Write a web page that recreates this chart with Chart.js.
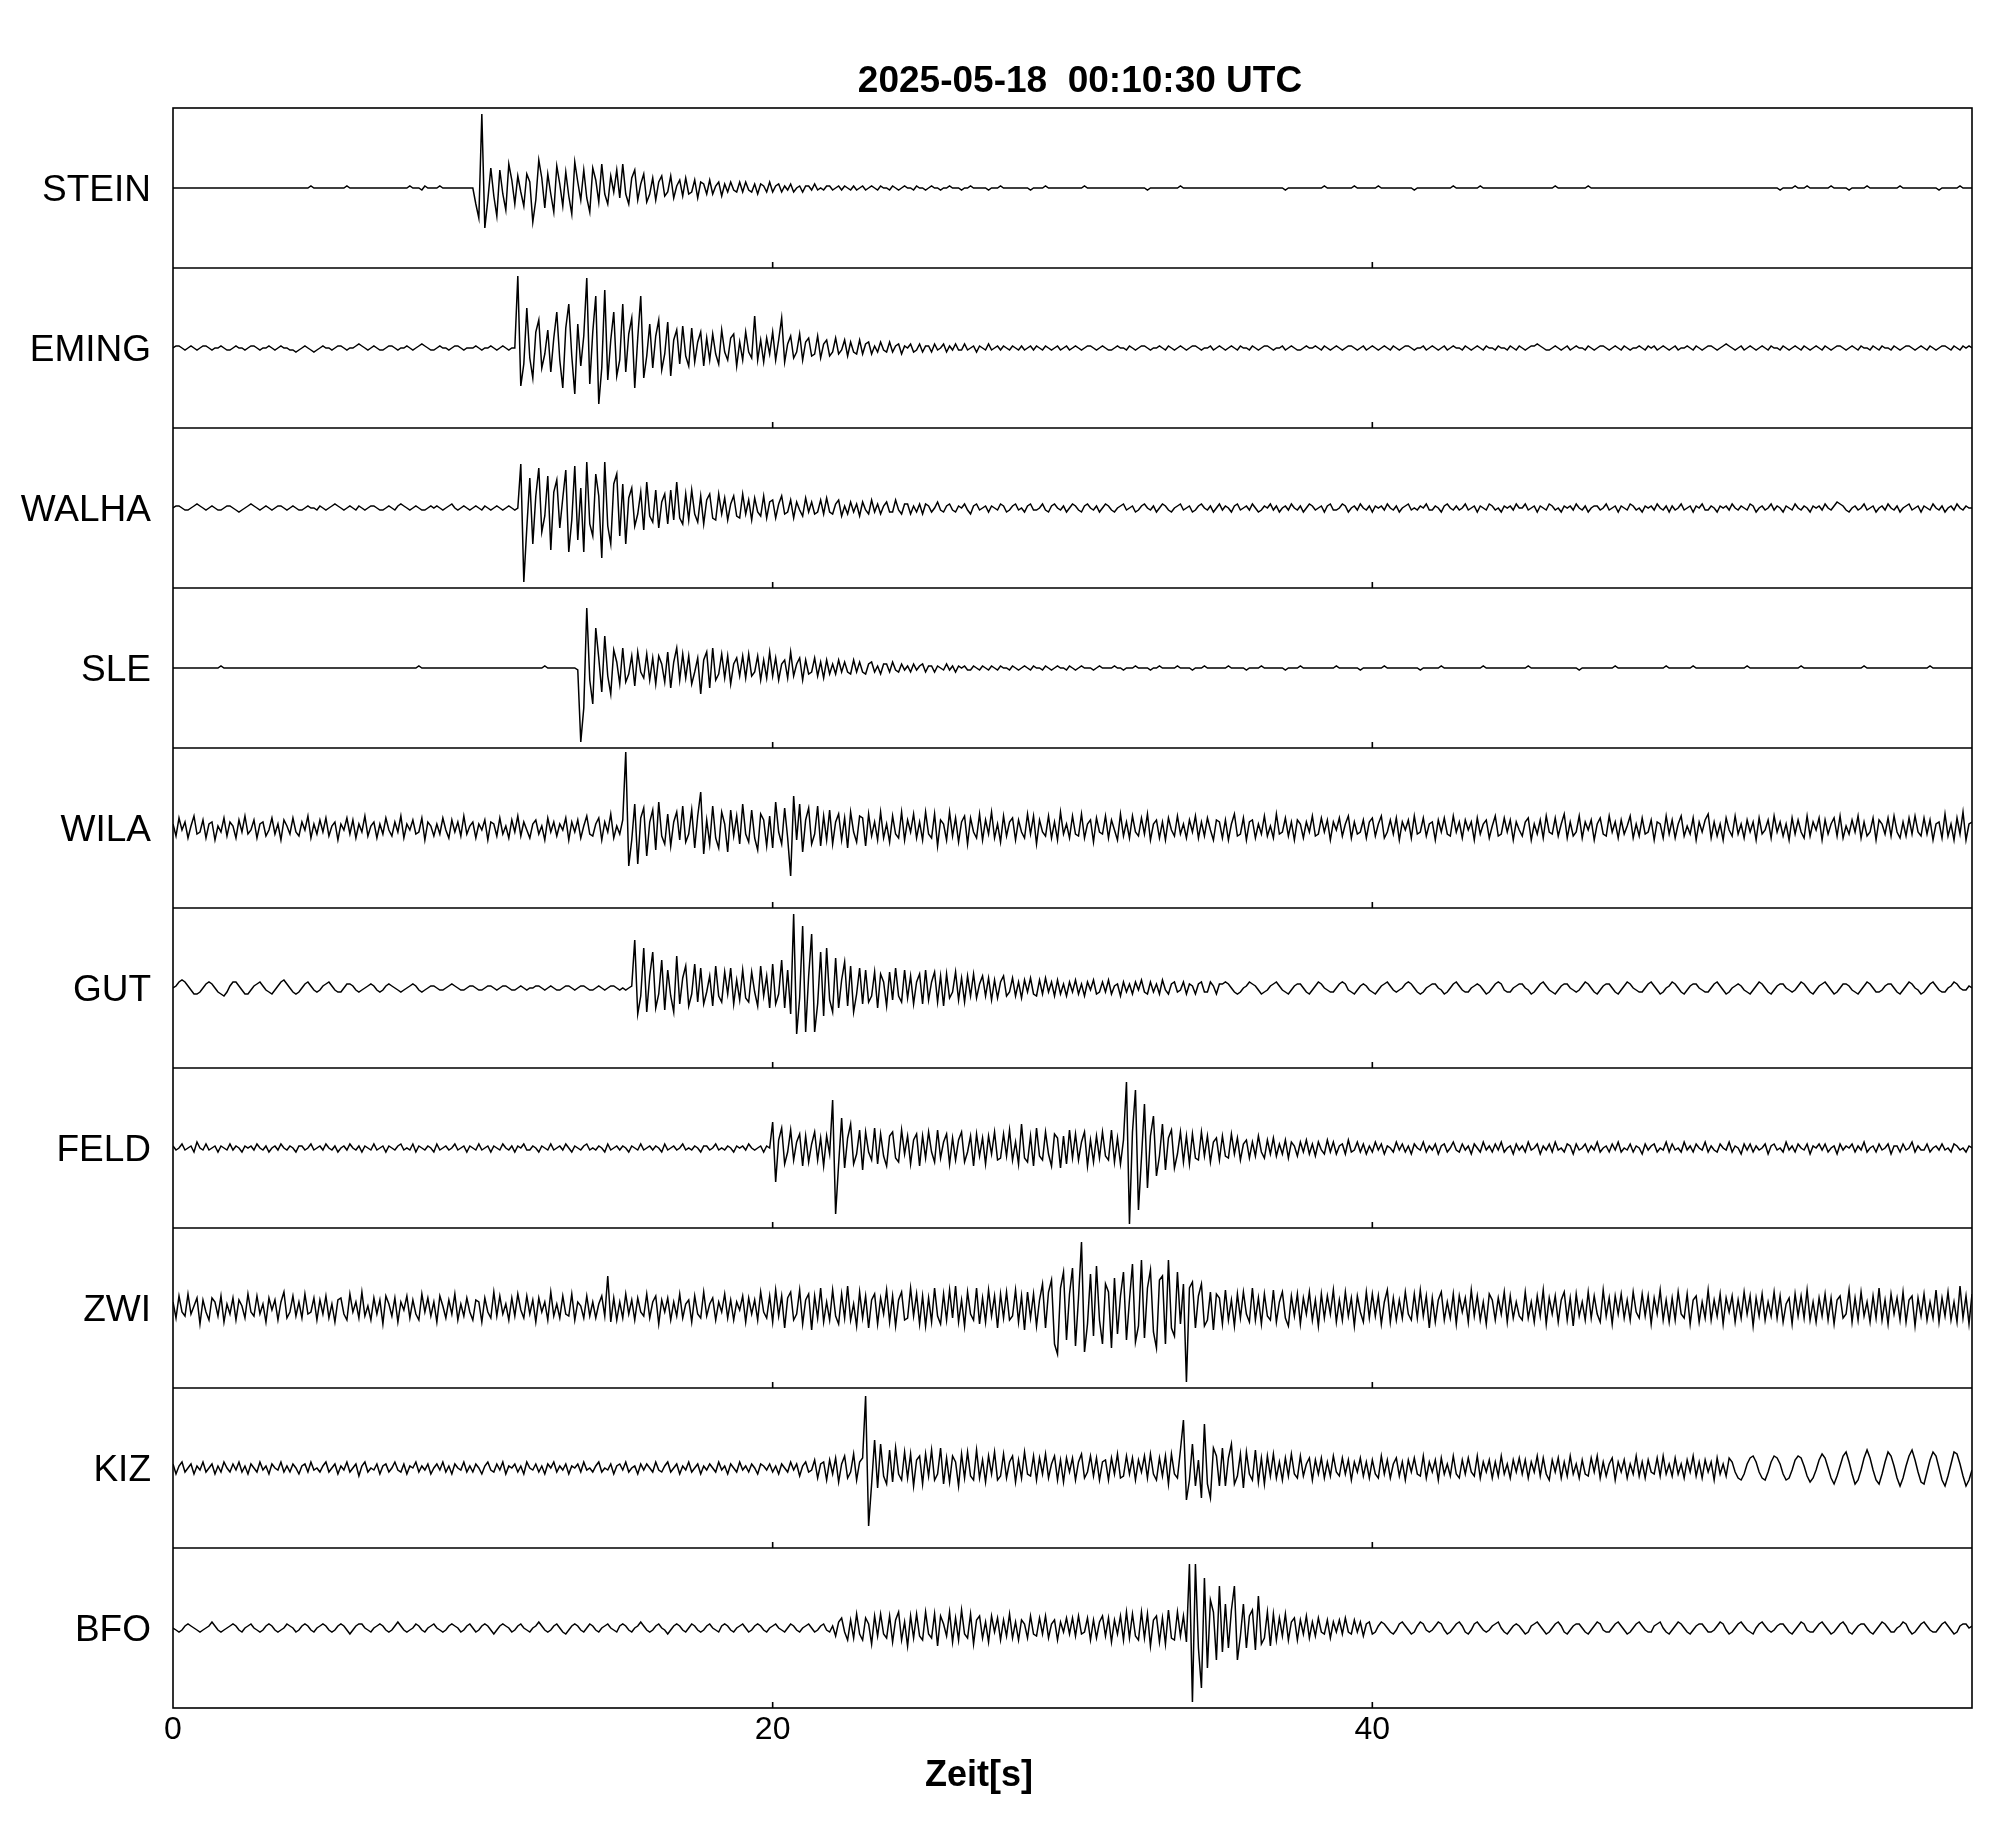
<!DOCTYPE html>
<html>
<head>
<meta charset="utf-8">
<title>Seismogramm</title>
<script src="https://cdn.jsdelivr.net/npm/chart.js@4.4.1/dist/chart.umd.min.js"></script>
<style>
  html, body { margin: 0; padding: 0; background: #fff; }
  #wrap { position: relative; width: 2005px; height: 1841px; }
  .lbl {
    position: absolute;
    font-family: "Liberation Sans", Arial, Helvetica, sans-serif;
    font-weight: bold;
    font-size: 36px;
    line-height: 36px;
    color: #000;
    white-space: pre;
    transform: translateX(-50%);
  }
</style>
</head>
<body>
<div id="wrap">
  <canvas id="seismo" width="2005" height="1841"></canvas>
  <div class="lbl" style="left:1080px; top:62px; font-size:37px;">2025-05-18  00:10:30 UTC</div>
  <div class="lbl" style="left:979px; top:1756px;">Zeit[s]</div>
</div>
<script>
// Stationen (von oben nach unten)
const stations = ['STEIN', 'EMING', 'WALHA', 'SLE', 'WILA', 'GUT', 'FELD', 'ZWI', 'KIZ', 'BFO'];
const xTicks = [0, 20, 40];
const sampleStep = 0.1; // s zwischen zwei Werten, 0..60 s

// Spuren, 5 s pro Zeile (Amplitude in Einheiten, +-40 = Panelrand)
const STEIN = [
  0,0,0,0,0,0,0,0,0,0, 0,0,0,0,0,0,0,0,0,0, 0,0,0,0,0,0,0,0,0,0, 0,0,0,0,0,0,0,0,0,0, 0,0,0,0,0,0,1,0,0,0,
  0,0,0,0,0,0,0,0,1,0, 0,0,0,0,0,0,0,0,0,0, 0,0,0,0,0,0,0,0,0,1, 0,0,0,-1,1,0,0,0,0,1, 0,0,0,0,0,0,0,0,0,0,
  0,-8,-15,37,-20,-6,10,-4,-14,9, -3,-11,12,4,-8,6,-2,-9,7,3, -17,-6,14,5,-10,7,-3,-12,11,2, -9,8,-4,-13,13,3,-6,9,-5,-12, 10,4,-7,12,-3,-8,6,-2,9,-5,
  12,-3,-8,5,9,-6,2,7,-7,-3, 5,-6,3,6,-4,-2,6,-5,1,4, -4,5,-3,-2,4,-5,3,2,-3,4, -3,1,3,-4,2,-2,3,-1,-2,3, -2,3,-1,-2,2,-3,2,1,-2,3,
  -2,1,2,-2,1,-1,2,-2,0,1, -2,1,1,-1,2,-1,0,-1,1,1, -1,0,1,-1,1,0,-1,1,-1,0, 1,-1,0,1,0,-1,1,0,0,-1, 1,0,-1,0,1,0,0,-1,1,0,
  0,-1,0,1,0,0,-1,0,0,1, 0,0,0,-1,0,0,1,0,0,0, 0,0,-1,0,0,0,1,0,0,0, 0,0,0,0,0,0,-1,0,0,0, 0,1,0,0,0,0,0,0,0,0,
  0,0,0,0,1,0,0,0,0,0, 0,0,0,0,0,0,0,0,0,0, 0,0,0,0,0,-1,0,0,0,0, 0,0,0,0,0,0,1,0,0,0, 0,0,0,0,0,0,0,0,0,0,
  0,0,0,0,0,0,0,0,0,0, 0,0,0,0,0,0,0,0,0,0, 0,-1,0,0,0,0,0,0,0,0, 0,0,0,0,1,0,0,0,0,0, 0,0,0,0,1,0,0,0,0,0,
  0,0,1,0,0,0,0,0,0,0, 0,0,0,0,-1,0,0,0,0,0, 0,0,0,0,0,0,0,1,0,0, 0,0,0,0,0,0,1,0,0,0, 0,0,0,0,0,0,0,0,0,0,
  0,0,0,0,0,0,0,0,0,0, 0,1,0,0,0,0,0,0,0,0, 0,0,1,0,0,0,0,0,0,0, 0,0,0,0,0,0,0,0,0,0, 0,0,0,0,0,0,0,0,0,0,
  0,0,0,0,0,0,0,0,0,0, 0,0,0,0,0,0,0,0,0,0, 0,0,0,0,0,0,0,0,0,0, 0,0,0,0,0,0,-1,0,0,0, 0,1,0,0,0,1,0,0,0,0,
  0,0,0,1,0,0,0,0,0,-1, 0,0,0,0,0,1,0,0,0,0, 0,0,0,0,0,0,1,0,0,0, 0,0,0,0,0,0,0,0,0,-1, 0,0,0,0,0,0,1,0,0,0,
  0
];
const EMING = [
  0,1,1,0,-1,0,1,0,-1,0, 1,1,0,-1,0,0,1,0,-1,-1, 0,1,0,0,-1,0,1,1,0,-1, 0,0,1,0,-1,0,1,0,0,-1, -1,-2,-1,0,1,0,-1,-2,-1,0,
  1,0,0,-1,0,1,1,0,-1,0, 0,1,2,1,0,-1,0,1,0,-1, -1,0,1,1,0,-1,0,0,1,0, -1,0,1,2,1,0,-1,-1,0,1, 0,0,-1,0,1,1,0,-1,0,0,
  0,1,0,-1,0,0,1,0,-1,0, 1,0,-1,0,0,36,-19,-8,20,-5, -15,8,14,-10,-3,9,-12,5,18,-6, -20,10,22,-4,-23,12,-9,6,35,-18, 8,26,-28,-10,29,-16,4,18,-14,-6,
  22,-12,7,15,-20,5,26,-15,-4,12, -10,6,14,-11,-3,13,-14,4,9,-8, 11,-4,-9,10,-7,3,8,-9,5,-6, 7,-3,-8,9,-2,-6,5,7,-9,3, -6,8,-2,-5,16,-6,4,-7,5,-3,
  8,-6,4,15,-7,2,6,-5,-2,7, -6,3,5,-4,-3,6,-5,2,4,-4, -2,5,-3,-1,4,-4,3,-2,-3,4, -3,2,3,-3,1,-2,3,-1,-2,3, -2,1,2,-3,1,0,2,-2,-1,2,
  -2,1,1,-2,2,-1,0,2,-2,1, -1,2,-1,-1,2,-1,0,1,-2,1, 0,-1,2,-1,0,1,-1,1,0,-1, 1,0,-1,1,-1,0,1,-1,1,0, -1,1,0,-1,0,1,-1,0,1,-1,
  0,1,0,-1,0,1,1,0,-1,0, 1,0,-1,-1,0,1,0,0,-1,1, 0,-1,0,1,1,0,-1,0,0,1, 0,-1,1,0,-1,0,1,0,-1,0, 1,1,0,-1,0,0,1,-1,0,1,
  0,-1,0,1,0,-1,1,0,0,-1, 1,0,-1,0,1,1,0,-1,0,0, 1,-1,0,1,0,-1,-1,0,1,0, 0,1,0,-1,1,0,-1,0,1,0, -1,0,1,1,0,-1,0,1,-1,0,
  1,0,-1,0,1,0,-1,1,0,-1, 0,1,1,0,-1,0,0,1,-1,0, 1,0,-1,0,1,-1,0,1,0,0, -1,1,0,-1,0,1,0,-1,1,0, 0,-1,1,0,0,-1,1,0,-1,1,
  0,-1,0,1,1,2,1,0,-1,-1, 0,1,0,-1,0,1,-1,0,1,0, 0,-1,1,0,-1,0,1,1,0,-1, 0,1,0,-1,1,0,-1,0,0,1, 0,-1,1,0,1,-1,0,1,0,-1,
  0,1,-1,0,0,1,0,-1,1,0, -1,0,1,1,0,-1,0,1,2,1, 0,-1,0,1,-1,0,1,0,-1,0, 1,0,-1,1,0,0,-1,1,0,-1, 0,1,0,-1,1,0,-1,0,1,0,
  -1,1,0,-1,0,1,1,0,-1,0, 1,0,-1,1,0,0,-1,1,0,-1, 1,0,0,-1,1,0,-1,0,1,1, 0,-1,0,1,0,-1,1,0,-1,0, 1,1,0,-1,1,0,-1,1,0,1,
  0
];
const WALHA = [
  0,1,1,0,-1,-1,0,1,2,1, 0,-1,0,1,0,-1,-1,0,1,1, 0,-1,-2,-1,0,1,2,1,0,-1, 0,1,0,-1,0,1,1,0,-1,0, 1,0,-1,-1,0,1,0,0,-1,1,
  0,-1,0,1,2,1,0,-1,0,1, 0,-1,1,0,-1,0,1,1,0,-1, -1,0,1,0,-1,1,2,1,0,-1, 0,1,0,-1,-1,0,1,0,1,0, -1,0,1,2,0,-1,0,1,0,-1,
  0,1,0,-1,1,0,-1,0,1,0, -1,0,1,0,-1,0,22,-37,-10,15, -18,6,20,-12,-4,16,-21,8,14,-10, 5,19,-22,-6,21,-16,10,-22,23,-8, -14,17,6,-25,23,-9,-18,12,17,-14,
  12,-18,5,10,-9,-3,8,-11,13,-4, -7,9,-10,3,7,-8,9,-6,13,-5, -8,7,-6,9,-3,-7,6,-8,4,7, -5,-6,7,-3,5,-6,2,6,-4,-5, 7,-3,4,-6,5,-2,-4,6,-5,3,
  4,-5,2,6,-3,-2,4,-5,3,-1, -4,5,-2,3,-3,-2,4,-3,5,-2, -3,2,4,-4,1,-3,3,-2,2,-4, 3,-1,-3,4,-2,2,-3,1,3,-2, -2,4,-1,-3,2,2,-3,1,-2,2,
  -3,2,1,-2,0,3,-1,-2,1,2, -1,-2,1,0,2,-1,-3,1,2,-1, 0,1,-2,1,0,-1,2,1,-2,-1, 1,2,-1,0,-2,1,2,-1,-1,0, 2,-1,-2,1,2,0,-1,1,-2,0,
  2,1,-1,-2,1,2,0,-1,1,-2, 0,2,1,-1,-2,0,1,2,-1,0, 1,-2,-1,1,2,0,-1,1,-2,0, 2,1,-1,-2,0,1,2,-1,0,1, -2,-1,1,2,0,-1,1,-2,0,2,
  -1,1,0,-2,1,2,-1,0,1,-1, 2,0,-2,-1,1,0,2,-1,1,-2, 0,1,-1,2,0,-1,1,-2,0,2, 1,-1,0,1,-2,1,2,-1,-1,0, 2,1,-2,0,1,-1,2,0,-1,1,
  -2,1,0,1,-1,2,0,-1,1,-2, 0,1,2,-1,0,-1,1,0,2,-1, -1,1,0,-2,1,2,0,-1,1,-1, 0,2,-1,0,1,-2,1,0,-1,2, 1,-1,0,-2,1,0,1,-1,2,0,
  0,2,-1,0,1,-2,1,0,-1,2, 1,-1,0,-2,1,0,1,-1,2,0, -1,1,-2,0,1,1,-1,0,2,-1, 0,1,-2,1,0,-1,2,1,-1,0, -2,1,0,1,-1,2,0,-1,1,-2,
  1,-1,0,2,-1,0,1,-2,1,0, 2,-1,-1,1,0,-2,1,0,1,-1, 2,0,-1,1,0,-1,2,1,-2,0, 1,-1,0,2,-1,1,0,-2,1,0, -1,2,0,-1,1,0,-2,1,0,1,
  -1,2,0,-1,1,3,2,1,-1,-2, 0,1,-1,0,2,-1,0,1,-2,0, 1,-1,2,0,-1,1,-2,0,1,2, -1,0,1,-2,1,0,-1,2,0,-1, 1,-2,0,1,-1,2,0,-1,1,0,
  0
];
const SLE = [
  0,0,0,0,0,0,0,0,0,0, 0,0,0,0,0,0,1,0,0,0, 0,0,0,0,0,0,0,0,0,0, 0,0,0,0,0,0,0,0,0,0, 0,0,0,0,0,0,0,0,0,0,
  0,0,0,0,0,0,0,0,0,0, 0,0,0,0,0,0,0,0,0,0, 0,0,0,0,0,0,0,0,0,0, 0,0,1,0,0,0,0,0,0,0, 0,0,0,0,0,0,0,0,0,0,
  0,0,0,0,0,0,0,0,0,0, 0,0,0,0,0,0,0,0,0,0, 0,0,0,0,1,0,0,0,0,0, 0,0,0,0,0,-1,-37,-20,30,-6, -18,20,5,-12,16,-4,-13,9,3,-8,
  10,-7,-3,6,-9,8,-2,-5,7,-6, 5,-8,6,2,-7,8,-10,3,10,-6, 7,-5,6,-8,-2,5,-13,4,8,-10, 10,-6,-3,7,-5,6,-8,2,5,-4, 6,-5,7,-4,-2,6,-6,4,-5,8,
  -4,5,-6,2,4,-5,8,-4,2,5, -6,4,-3,-2,5,-4,3,-5,4,-3, 2,-3,4,-2,3,-2,-3,4,-2,3, -2,-3,2,3,-2,1,-3,2,2,-2, 3,-1,-2,2,-1,1,-2,2,-1,1,
  2,-2,1,1,-2,1,0,-1,2,-1, 1,-2,1,0,1,-1,-1,1,0,-1, 1,0,-1,1,0,-1,1,0,0,-1, 1,0,-1,0,1,0,-1,1,0,0, -1,1,0,-1,0,1,0,0,-1,1,
  0,-1,0,1,0,0,0,-1,0,1, 0,0,0,0,1,0,0,-1,0,0, 0,1,0,0,0,0,-1,0,0,1, 0,0,0,0,0,1,0,0,0,0, -1,0,0,0,1,0,0,0,0,0,
  0,0,1,0,0,0,0,0,-1,0, 0,0,0,1,0,0,0,0,0,0, 0,-1,0,0,0,0,1,0,0,0, 0,0,0,0,0,0,0,0,1,0, 0,0,0,0,0,0,-1,0,0,0,
  0,0,0,0,1,0,0,0,0,0, 0,0,0,0,0,0,-1,0,0,0, 0,0,0,1,0,0,0,0,0,0, 0,0,0,0,0,0,0,1,0,0, 0,0,0,0,0,0,0,0,0,0,
  0,0,1,0,0,0,0,0,0,0, 0,0,0,0,0,0,0,0,0,-1, 0,0,0,0,0,0,0,0,0,0, 0,1,0,0,0,0,0,0,0,0, 0,0,0,0,0,0,0,0,1,0,
  0,0,0,0,0,0,0,1,0,0, 0,0,0,0,0,0,0,0,0,0, 0,0,0,0,0,1,0,0,0,0, 0,0,0,0,0,0,0,0,0,0, 0,0,0,1,0,0,0,0,0,0,
  0,0,0,0,0,0,0,0,0,0, 0,0,0,0,1,0,0,0,0,0, 0,0,0,0,0,0,0,0,0,0, 0,0,0,0,0,0,1,0,0,0, 0,0,0,0,0,0,0,0,0,0,
  0
];
const WILA = [
  2,-4,5,-1,3,-5,1,6,-3,-2, 4,-5,2,3,-6,1,-2,5,-4,3, 1,-5,4,-2,6,-3,-1,4,-5,2, 3,-4,-1,5,-3,2,-6,4,1,-3, 5,-2,-4,3,-1,6,-5,2,-3,4,
  -2,5,-4,1,3,-6,2,-1,5,-3, 4,-5,2,-2,6,-4,1,3,-5,2, -3,5,-1,-4,3,-2,6,-5,2,-1, 4,-3,-2,5,-6,3,1,-4,2,-3, 5,-1,-5,4,-2,3,-4,6,-3,1,
  3,-5,2,-1,4,-6,3,2,-4,5, -3,1,-5,4,-2,6,-4,3,-1,-5, 2,4,-3,1,-6,5,-2,3,-4,2, -1,5,-6,3,-2,4,-5,1,6,-3, -4,2,5,-6,3,-2,7,-5,1,-3,
  4,38,-19,-6,12,-18,5,10,-14,3, 9,-11,13,-4,-8,7,-9,3,8,-6, 11,-7,-3,9,-10,6,18,-13,4,-8, 11,-5,-10,8,2,-12,9,-4,6,-8, 12,-3,-7,9,-5,-11,7,4,-9,6,
  -10,13,-2,-8,10,-5,-24,16,-6,12, -12,4,10,-8,-3,11,-9,6,-6,9, -8,3,7,-6,5,-10,8,-2,-7,6, 5,-9,7,-4,3,-6,8,-5,2,-7, 6,-3,-5,8,-6,4,-2,7,-5,3,
  -6,8,-3,-5,7,-9,4,2,-6,8, -4,5,-7,3,6,-8,5,-2,-5,7, -6,4,-3,8,-5,2,-7,6,-4,3, 5,-6,4,-2,-5,7,-3,6,-8,4, -2,-4,6,-5,3,-6,8,-3,2,-5,
  6,-3,-4,7,-5,2,4,-7,5,-2, -3,6,-5,4,-1,-6,7,-4,3,-5, 6,-2,-4,5,-3,7,-6,2,4,-5, 3,-6,5,-1,-4,6,-3,2,-5,4, -2,6,-5,3,-4,5,-1,-6,4,3,
  -5,4,-6,2,7,-4,-3,5,-6,3, 4,-5,2,-3,6,-4,1,-5,7,-3, -2,5,-4,3,-6,4,2,-5,3,-2, 6,-4,-3,5,-2,4,-6,3,-1,5, -4,2,6,-5,3,-3,-2,4,-5,3,
  5,-4,2,6,-5,-2,4,-3,5,-6, 3,-1,4,-5,6,-3,-2,5,-4,2, 3,-6,4,-2,5,-3,-4,6,-2,3, -5,4,-1,3,-6,5,-3,2,4,-5, 1,6,-4,-3,5,-2,4,-6,3,-1,
  -4,3,5,-6,2,-3,4,-5,6,-2, -3,5,-4,2,7,-5,3,-4,-2,6, -5,3,-1,4,-6,2,5,-3,-4,6, -2,3,-5,4,-3,1,6,-5,2,-4, 5,-3,-2,4,-6,3,2,-5,6,-3,
  4,-5,2,6,-4,1,-3,5,-6,3, -2,4,7,-5,3,-4,2,-6,5,-1, -4,6,-3,2,-5,4,-2,3,-6,5, -3,-1,4,-5,6,-2,3,-4,2,-6, 5,-3,4,-2,-5,6,-4,3,-1,5,
  -6,4,-3,2,5,-4,6,-5,1,-3, 4,-2,6,-5,3,-4,-2,5,-6,4, 2,-3,5,-4,6,-2,-5,3,-4,5, -3,6,-2,-4,5,-3,4,-6,2,3, -5,7,-4,2,-6,5,-3,8,-6,2,
  3
];
const GUT = [
  0,1,3,4,3,1,-1,-3, -3,-2,0,2,3,2,0,-2, -3,-4,-2,1,3,3,1,-1, -3,-3,-1,1,2,3,1,-1, -2,-3,-1,1,3,4,2,0, -2,-3,-2,0,2,3,1,-1, -2,-1,
  1,2,3,1,-1,-2,-2,0, 2,2,1,-1,-2,-1,0,1, 2,1,-1,-2,-1,1,2,1, 0,-1,-2,-1,0,1,2,1, -1,-2,-1,0,1,1,0,-1, -1,0,1,2,1,0,-1,-1, 0,1,
  1,0,-1,-1,0,1,1,0,-1,0, 1,1,0,-1,-1,0,1,0,-1,0, 0,1,1,0,-1,0,1,0,-1,-1, 0,1,1,0,-1,0,1,1,0,-1, -1,0,1,0,-1,0,1,1,0,-1,
  0,-1,0,1,24,-13,-4,20,-12,6, 18,-10,-3,14,-11,9,-4,-12,16,-8, 5,11,-9,-3,12,-7,10,-8,-2,6, -9,11,-4,-7,8,-3,10,-8,4,-6, 9,-5,-7,8,-2,-9,11,-4,6,-10,
  12,-8,-3,14,-10,9,-13,37,-23,-5, 31,-22,6,27,-22,-8,18,-14,20,-6, -12,15,-10,4,13,-9,11,-12,-3,10, -8,9,-7,-4,8,-10,7,3,-9,8, -6,10,-4,-7,9,-5,6,-8,3,7,
  -8,9,-6,3,8,-7,6,-9,7,-5, -2,8,-6,5,-7,6,-4,7,-5,2, 6,-4,5,-6,4,-5,3,6,-4,-2, 5,-4,3,-5,4,-2,5,-3,-4,4, -3,5,-2,3,-4,4,-3,2,-4,3,
  -2,4,-3,2,-4,3,-1,4,-3,-2, 3,-2,4,-3,1,2,-4,3,-2,2, -3,3,-1,4,-2,-3,3,-2,2,-3, 4,-1,-3,2,3,-2,-1,3,-3,2, 1,-3,2,3,-2,-2,3,1,-3,2,
  2,3,2,0,-2,-3,-2,0,1,3, 2,1,-1,-3,-2,-1,1,2,3,1, -1,-2,-3,-1,1,2,2,0,-2,-3, -1,1,3,2,0,-1,-2,-2,0,2, 3,2,-1,-2,-3,-1,1,2,1,-1,
  -2,-3,-1,1,2,3,1,-1,-2,-1, 0,2,3,2,0,-2,-3,-2,0,1, 2,2,0,-1,-3,-2,0,2,3,1, -1,-2,-2,0,1,2,1,-1,-3,-2, 0,2,3,2,-1,-2,-2,0,1,2,
  2,0,-1,-3,-2,0,2,3,1,-1, -2,-3,-1,1,2,2,0,-1,-2,-1, 1,3,2,0,-2,-3,-1,1,2,2, 0,-2,-3,-1,1,3,2,0,-1,-2, -2,0,2,3,1,-1,-3,-2,0,1,
  3,2,0,-2,-3,-1,1,2,2,0, -1,-2,-2,0,2,3,1,-1,-3,-2, 0,1,2,1,-1,-2,-3,-1,1,3, 2,0,-2,-3,-1,1,2,2,0,-1, -2,-1,1,3,2,0,-2,-3,-1,1,
  2,3,1,-1,-3,-2,0,2,2,1, -1,-2,-3,-1,1,3,2,0,-2,-2, -1,1,2,2,0,-2,-3,-1,1,3, 2,0,-1,-3,-2,0,2,3,1,-1, -2,-2,0,1,3,2,0,-1,-1,1,
  0
];
const FELD = [
  1,-1,0,2,-1,0,1,-2,3,0, -1,2,-1,0,1,-2,1,0,-1,2, -1,1,0,-2,1,0,1,-1,2,0, -1,1,-2,0,1,-1,2,0,-1,1, 0,-2,1,1,-1,0,2,-1,0,1,
  -1,2,0,-1,1,-2,0,1,-1,2, 0,-1,1,-2,1,0,-1,2,-1,0, 1,-2,1,0,-1,1,2,-1,0,-1, 2,-2,1,0,-1,1,0,-2,2,-1, 0,1,-1,0,2,-1,0,1,-2,1,
  0,-1,2,-1,0,1,-2,1,0,-1, 2,0,-1,1,-2,1,0,2,-1,-1, 1,0,-2,1,0,-1,2,-1,0,1, -1,2,0,-2,1,0,-1,1,2,-1, 0,-1,1,0,-2,2,-1,0,1,-1,
  1,0,-2,1,0,-1,2,-1,0,1, -1,1,0,-2,2,-1,0,1,-1,0, 2,-1,0,-1,1,0,-2,1,1,-1, 0,2,-1,0,-1,1,0,-2,1,0, 1,-1,2,0,-1,0,1,-2,1,0,
  13,-17,4,10,-8,-2,9,-6,3,7, -9,6,-7,2,8,-6,5,-9,6,-3, 24,-33,-8,15,-10,5,12,-8,-3,9, -11,8,-2,-6,10,-8,7,-4,-9,6, 8,-5,-7,9,-3,6,-8,4,7,-9,
  6,-5,8,-2,-7,9,-5,3,7,-8, 5,-6,4,8,-7,-2,6,-9,7,-4, 5,-8,6,-3,8,-6,-5,7,-4,9, -6,3,-8,12,-5,-7,6,-9,10,-4, -6,8,-3,-9,7,5,-10,6,-8,9,
  -5,7,-6,3,8,-9,4,-7,6,-5, 8,-4,-6,9,-7,5,-8,4,33,-38, 8,29,-31,-5,22,-20,6,16,-14,-4, 12,-11,5,9,-10,-3,8,-7,6,-8, 7,-5,-6,8,-4,6,-7,3,5,-6,
  6,-4,-5,7,-3,5,-6,2,4,-5, 3,-4,6,-2,-5,4,-3,5,-4,2, -3,4,-5,3,1,-4,3,-2,4,-3, 2,-4,3,-1,-3,4,-2,3,-3,1, 2,-3,4,-2,-1,3,-2,2,-3,1,
  -2,3,-1,2,-3,1,0,-2,3,-1, 2,-2,1,-3,2,0,-1,3,-2,1, -1,2,-3,1,2,-2,0,3,-1,-2, 2,-1,1,-3,2,0,-2,3,-1,1, -2,2,-1,3,-2,0,1,-3,2,-1,
  1,-2,3,-1,0,2,-3,1,-1,2, -2,3,-1,0,-2,2,1,-3,2,-1, 0,2,-2,1,-1,3,-2,0,1,-2, 2,-1,3,-2,0,-1,2,-2,1,0, -3,2,-1,1,2,-2,0,-1,3,-2,
  2,-1,0,-2,3,-1,1,-2,2,0, -1,3,-2,1,-1,-2,2,0,-1,3, -2,1,0,-3,2,-1,2,-2,1,-1, 0,2,-3,1,2,-1,0,-2,3,-1, 1,-2,2,0,-1,2,-3,1,0,2,
  -1,2,-2,0,1,-3,2,-1,1,0, 2,-2,1,-1,3,-2,0,1,-2,2, -1,0,2,-3,1,1,-2,2,-1,0, 3,-2,1,-1,-1,2,-2,0,1,-1, 2,-1,0,-2,2,1,-1,0,-2,1,
  0
];
const ZWI = [
  3,-5,6,-2,-4,7,-3,1,5,-8, 4,-2,-6,5,3,-4,6,-7,2,-3, 5,-6,4,1,-5,7,-2,-4,6,-3, 2,-7,5,-1,4,-6,3,8,-5,-2, 6,-4,3,-5,7,-3,-2,5,-6,4,
  -3,6,-5,2,-7,4,5,-3,-6,7, -2,3,-5,8,-4,1,-6,5,-3,4, -8,6,2,-4,5,-7,3,-1,6,-5, 4,-3,-6,7,-2,5,-4,3,-7,6, 1,-5,4,-3,7,-6,2,-4,5,-2,
  -6,4,3,-7,5,-2,-5,8,-4,6, -3,2,-6,5,-4,7,-1,-5,6,-3, 4,-7,5,-2,3,-6,8,-4,2,-5, 6,-3,-4,7,-6,3,1,-5,6,-4, 3,-5,2,6,-4,16,-7,5,-6,3,
  -5,7,-3,4,-6,5,-2,-4,7,-5, 3,6,-8,4,-2,5,-6,3,-4,7, -5,2,4,-7,6,-3,-5,8,-4,2, 5,-6,3,-2,7,-5,4,-6,3,-1, 6,-7,5,-3,4,-6,8,-2,-5,6,
  -7,9,-4,6,-10,5,8,-6,-3,9, -8,4,7,-11,6,-5,10,-7,3,-6, 9,-4,-8,7,-5,11,-6,2,-9,8, -5,6,-10,4,7,-8,5,-3,9,-7, 6,-9,4,8,-6,-5,10,-4,7,-8,
  6,-9,5,-7,10,-4,-8,7,-6,9, -5,11,-7,4,-9,8,-3,-6,10,-8, 5,-7,9,-4,6,-10,7,-5,8,-6, -4,9,-7,6,-11,8,-5,7,-9,4, 12,-10,8,14,-18,-23,10,18,-16,7,
  20,-19,5,33,-22,-8,17,-14,21,-6, -18,12,8,-20,15,-13,6,18,-16,4, 22,-17,-9,24,-15,10,19,-12,-20,14, 16,-18,24,-10,-14,18,-8,12,-37,10, 13,-10,6,12,-9,-6,8,-11,7,5,
  -8,9,-6,4,-9,7,-5,8,-3,-7, 10,-6,5,-8,7,-4,-6,9,-7,3, 8,-5,-9,6,-4,7,-8,5,-3,8, -6,4,-9,7,-5,6,-3,9,-7,4, -6,8,-4,5,-9,6,-2,-7,8,-5,
  7,-4,6,-8,3,9,-7,5,-6,4, -5,8,-3,-6,7,-5,9,-4,6,-10, 5,-7,4,8,-6,3,-5,7,-8,6, -2,5,-7,9,-4,6,-6,3,-8,7, 4,-6,5,-3,8,-7,6,-5,3,-4,
  -6,8,-5,3,-7,6,-4,9,-8,5, -3,6,-7,4,8,-6,5,-9,7,-4, 3,-6,8,-5,6,-3,-7,9,-4,5, -8,6,-3,7,-5,4,-6,8,-2,-5, 7,-4,6,-8,5,-3,9,-6,4,-7,
  5,-6,8,-3,-5,7,-8,4,6,-7, 3,-5,9,-6,4,-4,7,-8,5,-2, 6,-7,4,-5,8,-3,6,-9,5,-4, 7,-6,3,-4,8,-5,6,-7,2,5, -8,7,-4,6,-5,9,-6,3,-7,5,
  -4,7,-6,5,-8,4,6,-5,-3,9, -7,5,-6,8,-4,3,-7,6,-5,10, -6,4,-8,7,-3,5,-6,8,-7,4, 6,-9,5,-4,7,-6,3,-5,9,-7, 5,-4,8,-6,3,-7,11,-5,6,-8,
  7
];
const KIZ = [
  2,-3,1,3,-2,0,2,-3,1,-1, 3,-2,0,2,-3,1,-2,3,0,-2, 2,-1,3,-2,1,-3,2,0,-2,3, -1,1,-3,2,0,-1,3,-2,1,-2, 2,0,-3,1,2,-2,3,-1,0,-2,
  1,3,-2,0,2,-3,1,-1,3,-2, 0,2,-4,1,3,-2,0,-1,2,-3, 1,2,-2,0,3,-1,-2,2,-3,1, 0,3,-2,1,-1,2,-3,0,2,-1, 3,-2,1,-3,2,0,-1,3,-2,1,
  -2,2,0,-3,1,3,-1,-2,2,-1, 3,-3,1,0,2,-2,1,-3,3,0, -1,2,-2,1,-3,2,0,3,-2,1, -1,2,-3,1,0,2,-2,3,-1,0, -2,1,3,-2,0,-1,2,-3,1,2,
  -1,3,-2,0,1,-3,2,-1,2,0, -2,3,-1,-2,1,3,-2,0,2,-3, 1,-1,3,-2,0,2,-3,1,-1,2, 0,-2,3,-1,1,-3,2,0,-2,3, -1,1,-2,2,0,-3,2,1,-1,2,
  -2,1,-3,2,0,-2,3,-1,2,-4, 1,3,-2,-1,4,-5,2,3,-6,4, -3,5,-7,2,6,-5,-2,7,-6,3, 5,36,-29,-8,14,-10,12,-4,-8,9, -7,10,-3,-6,8,-5,7,-9,4,6,
  -8,7,-4,9,-6,-3,10,-8,5,-7, 6,3,-9,7,-5,8,-4,-6,9,-5, 4,-7,6,-3,8,-6,-4,7,-5,3, 6,-7,4,-5,8,-3,-4,6,-6,5, -3,7,-5,2,6,-6,4,-7,5,-2,
  5,-6,3,7,-5,-2,6,-4,5,-6, 3,4,-6,5,-3,7,-5,-4,6,-3, 5,-6,4,-2,6,-5,7,-3,-6,5, -4,6,-8,7,-3,-5,9,24,-16,-6, 12,-9,4,-15,22,-8,-15,10,6,-9,
  10,-9,5,12,-8,-4,7,-10,8,-3, -6,9,-7,5,-8,6,-4,7,-5,3, -6,5,-4,7,-3,-5,6,-4,2,5, -6,4,-3,5,-5,3,-4,6,-2,-4, 5,-3,4,-6,3,-2,5,-4,3,-5,
  4,-3,-5,6,-3,4,-5,2,5,-4, 3,-6,4,-2,5,-3,-4,6,-5,3, -2,4,-6,5,-3,2,-4,6,-3,-5, 4,-3,5,-2,-4,6,-5,3,-2,4, -5,3,-4,6,-3,2,-5,4,-2,5,
  -3,4,-5,3,-2,6,-4,5,-3,-6, 4,-2,5,-5,3,-4,6,-3,2,-5, 4,-3,-4,5,-2,6,-5,3,-4,2, 5,-6,3,-2,4,-5,2,-3,6,-4, 3,-5,4,-2,-3,5,-4,6,-3,2,
  -4,5,-3,2,-5,4,-2,6,-4,3, -5,4,-2,3,-6,5,-3,2,-4,5, 3,-2,-5,-6,-3,2,5,6,3,-2, -5,-6,-2,3,6,5,2,-3,-6,-5, -1,4,6,5,1,-4,-7,-5,-1,4,
  7,5,0,-5,-8,-4,1,6,8,3, -3,-8,-6,-1,5,9,5,-1,-6,-8, -3,3,8,6,1,-5,-9,-5,1,6, 9,4,-2,-7,-8,-2,4,8,6,0, -6,-9,-4,2,8,7,2,-4,-9,-6,
  -1
];
const BFO = [
  0,-1,-2,-1,1,2,1,0,-1,-2, -1,0,1,3,1,-1,-2,-1,0,1, 2,1,-1,-2,0,1,2,0,-1,-2, -1,1,2,1,-1,-2,-1,0,2,1, 0,-2,-1,1,2,1,-1,-2,0,1,
  2,1,-1,-2,-1,1,2,1,-1,-3, -1,1,2,2,0,-1,-2,0,1,2, 1,-1,-2,-1,1,3,1,-1,-2,-1, 0,2,1,-1,-2,0,1,2,0,-1, -2,-1,1,2,1,0,-2,-1,1,2,
  0,-2,-1,1,2,1,-1,-3,-1,1, 2,1,0,-2,-1,1,2,0,-1,-2, 0,1,3,1,-1,-2,-1,1,2,0, -2,-3,-1,1,2,1,-1,-2,0,2, 1,-1,-2,0,1,2,0,-1,-2,1,
  2,1,-1,-2,0,1,3,1,-1,-2, -1,1,2,0,-1,-3,-1,1,2,1, -1,-2,0,2,1,-1,-2,-1,1,2, 0,-1,-2,1,2,1,-1,-2,0,1, 2,0,-2,-1,1,2,1,-1,-2,0,
  1,2,0,-1,-2,0,2,1,-1,-2, 0,1,2,0,-2,-1,1,2,-1,-2, 1,-4,3,5,-2,-6,4,-5,7,-3, -6,5,2,-8,6,-4,7,-3,-5,6, -7,4,8,-6,3,-9,6,-5,7,-4,
  -6,8,-3,-5,7,-9,6,2,-4,8, -7,5,-6,9,-3,-5,7,-8,4,6, -5,3,-7,6,-2,5,-6,4,-4,7, -5,3,-6,4,2,-5,6,-3,-4,5, -3,6,-5,2,4,-6,3,-2,5,-3,
  5,-4,6,-3,-2,5,-6,4,-5,3, 6,-4,5,-7,4,-3,6,-6,8,-5, 7,-4,-6,8,-5,7,-9,4,6,-7, 5,-8,9,-5,-6,8,-4,6,-7,32, -37,32,-10,-30,25,-20,14,8,-16,21,
  -12,12,-10,9,21,-16,-4,12,-10,6, 9,-11,16,-8,-5,8,-9,7,-6,5, -4,7,-6,3,5,-6,4,-3,6,-5, 3,-4,5,-2,-3,4,-5,3,-2,4, -3,5,-2,-3,4,-2,3,-4,2,3,
  -3,-2,1,3,2,0,-2,-3,-1,2, 3,1,-1,-3,-2,1,3,2,-1,-2, -1,1,3,2,-1,-3,-2,0,2,3, 1,-2,-3,-1,2,3,1,-1,-2,-1, 1,2,3,0,-2,-3,-1,1,2,1,
  -1,-3,-2,1,2,3,1,-1,-3,-2, 0,2,3,1,-2,-3,-1,1,2,2, 0,-2,-3,-1,1,3,2,-1,-2,-2, 0,2,3,1,-1,-3,-2,0,2,3, 1,-1,-2,-2,1,2,3,0,-2,-3,
  -1,1,3,2,0,-2,-3,-1,1,2, 2,0,-2,-2,-1,1,3,2,-1,-3, -2,0,2,3,1,-1,-2,-3,0,2, 3,1,-1,-2,-1,1,2,2,0,-2, -3,-1,1,3,2,-1,-2,-2,0,2,
  3,1,-1,-3,-2,0,2,3,1,-2, -3,-1,1,2,2,0,-2,-3,-1,1, 3,2,0,-2,-2,0,1,3,2,-1, -3,-2,0,2,3,1,-1,-2,-2,0, 2,3,1,-1,-3,-2,1,2,2,0,
  1
];

const traces = [STEIN, EMING, WALHA, SLE, WILA, GUT, FELD, ZWI, KIZ, BFO];
const fontFamily = '"Liberation Sans", Arial, Helvetica, sans-serif';

// Rahmen, Trennlinien und Tickstriche innen
const framePlugin = {
    id: 'frame',
    afterDatasetsDraw(chart) {
        const { ctx, chartArea: a, scales } = chart;
        ctx.save();
        ctx.strokeStyle = '#000';
        ctx.lineWidth = 1.6;
        ctx.strokeRect(a.left, a.top, a.right - a.left, a.bottom - a.top);
        ctx.beginPath();
        stations.forEach((name, i) => {
            const sc = scales['y' + i];
            if (i < stations.length - 1) {
                ctx.moveTo(a.left, sc.bottom);
                ctx.lineTo(a.right, sc.bottom);
            }
            xTicks.slice(1).forEach(v => {
                const px = scales.x.getPixelForValue(v);
                ctx.moveTo(px, sc.bottom);
                ctx.lineTo(px, sc.bottom - 6);
            });
        });
        ctx.stroke();
        ctx.restore();
    }
};

const scaleOptions = {
    x: {
        type: 'linear',
        position: 'bottom',
        min: 0,
        max: 60,
        afterBuildTicks: s => { s.ticks = xTicks.map(v => ({ value: v })); },
        afterFit: s => { s.height = 133; },
        grid: { display: false, drawTicks: false },
        border: { display: false },
        ticks: {
            padding: 3,
            color: '#000',
            maxRotation: 0,
            autoSkip: false,
            font: { family: fontFamily, size: 32 }
        }
    }
};

stations.forEach((name, i) => {
    scaleOptions['y' + i] = {
        type: 'linear',
        position: 'left',
        stack: 'traces',
        weight: stations.length - i,
        min: -40,
        max: 40,
        afterBuildTicks: s => { s.ticks = [{ value: 0 }]; },
        afterFit: s => { s.width = 173; },
        grid: { display: false, drawTicks: false },
        border: { display: false },
        ticks: {
            padding: 22,
            labelOffset: 3,
            color: '#000',
            font: { family: fontFamily, size: 37 },
            callback: () => name
        }
    };
});

const ctx = document.getElementById('seismo').getContext('2d');
const seismoChart = new Chart(ctx, {
    type: 'line',
    data: {
        datasets: traces.map((vals, i) => ({
            label: stations[i],
            xAxisID: 'x',
            yAxisID: 'y' + i,
            data: vals.map((v, k) => ({ x: k * sampleStep, y: v })),
            borderColor: '#000',
            borderWidth: 1.5,
            borderJoinStyle: 'miter',
            pointRadius: 0,
            tension: 0,
            fill: false
        }))
    },
    options: {
        responsive: false,
        animation: false,
        events: [],
        layout: { padding: { top: 108, right: 33, bottom: 0, left: 0 } },
        scales: scaleOptions,
        plugins: {
            legend: { display: false },
            title: { display: false },
            tooltip: { enabled: false }
        }
    },
    plugins: [framePlugin]
});
</script>
</body>
</html>
